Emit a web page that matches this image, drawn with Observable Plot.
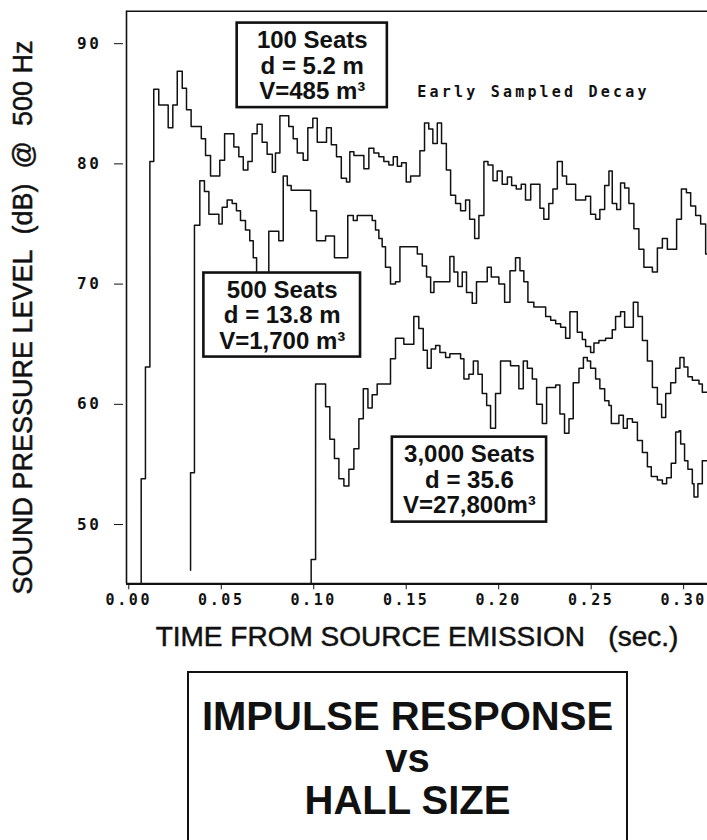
<!DOCTYPE html>
<html>
<head>
<meta charset="utf-8">
<script src="https://cdn.jsdelivr.net/npm/d3@7"></script>
<script src="https://cdn.jsdelivr.net/npm/@observablehq/plot@0.6"></script>
<style>
  html, body { margin: 0; padding: 0; background: #fff; }
  body { width: 707px; height: 840px; overflow: hidden; position: relative; font-family: "Liberation Sans", Arial, sans-serif; }
  #chart { position: absolute; left: 0; top: 0; }
  #title {
    position: absolute; left: 187px; top: 671px; width: 437px; height: 220px;
    border: 2px solid #111; box-sizing: content-box; text-align: center;
    font-weight: bold; font-size: 40px; line-height: 42px; color: #111; padding-top: 22px;
  }
</style>
</head>
<body>
<div id="chart"></div>
<div id="title">IMPULSE RESPONSE<br>vs<br>HALL SIZE</div>
<script>
// ---- data (time in seconds, level in dB) ----
const t100 = [0.0067,0.0067,0.0090,0.0114,0.0135,0.0162,0.0213,0.0238,0.0262,0.0289,0.0312,0.0337,0.0392,0.0415,0.0442,0.0492,0.0518,0.0568,0.0595,0.0619,0.0644,0.0667,0.0694,0.0721,0.0748,0.0776,0.0793,0.0817,0.0865,0.0889,0.0911,0.0943,0.0968,0.0995,0.1019,0.1069,0.1095,0.1123,0.1149,0.1177,0.1195,0.1217,0.1271,0.1298,0.1325,0.1352,0.1379,0.1406,0.1430,0.1452,0.1475,0.1500,0.1524,0.1574,0.1599,0.1622,0.1644,0.1668,0.1691,0.1717,0.1740,0.1767,0.1794,0.1821,0.1843,0.1870,0.1893,0.1920,0.1942,0.1969,0.1992,0.2019,0.2047,0.2070,0.2095,0.2122,0.2145,0.2173,0.2223,0.2244,0.2271,0.2293,0.2317,0.2344,0.2367,0.2416,0.2470,0.2497,0.2524,0.2547,0.2573,0.2596,0.2614,0.2638,0.2659,0.2681,0.2704,0.2731,0.2758,0.2785,0.2831,0.2858,0.2885,0.2912,0.2962,0.2988,0.3015,0.3038,0.3065,0.3092,0.3119,0.3135];
const spl100 = [45,53.8,63.1,80.2,86.2,84.9,83.0,84.9,87.7,86.3,84.5,83.1,82.1,80.7,79.0,80.3,82.5,81.4,80.6,79.5,80.2,82.5,83.3,81.8,80.8,79.3,80.9,84.0,83.1,82.1,80.9,80.3,83.0,83.8,81.8,83.0,81.6,80.6,78.8,78.5,81.0,80.7,79.6,81.3,80.9,80.6,80.2,79.9,80.6,79.8,80.1,78.5,79.0,81.1,83.4,82.9,81.7,83.4,81.7,79.5,77.4,76.7,76.1,77.0,75.4,73.8,75.7,80.2,79.9,78.6,79.4,78.3,78.9,78.2,77.9,78.3,77.0,78.3,76.3,75.4,76.7,77.9,80.2,79.0,78.3,77.0,77.3,75.8,75.4,76.2,78.2,79.4,76.7,76.2,78.4,78.0,76.7,74.6,72.9,71.4,71.0,73.0,73.8,72.9,75.4,77.9,77.6,76.5,75.7,75.0,72.5,72.5];

const t500 = [0.0334,0.0334,0.0355,0.0384,0.0409,0.0433,0.0487,0.0505,0.0532,0.0559,0.0582,0.0604,0.0631,0.0654,0.0673,0.0691,0.0757,0.0811,0.0835,0.0857,0.0878,0.0983,0.1015,0.1064,0.1112,0.1184,0.1214,0.1235,0.1316,0.1334,0.1352,0.1370,0.1388,0.1415,0.1442,0.1466,0.1560,0.1587,0.1610,0.1632,0.1650,0.1736,0.1758,0.1779,0.1803,0.1826,0.1857,0.1880,0.1938,0.1960,0.2001,0.2032,0.2061,0.2091,0.2115,0.2136,0.2158,0.2190,0.2254,0.2281,0.2308,0.2335,0.2362,0.2385,0.2425,0.2452,0.2470,0.2497,0.2515,0.2542,0.2578,0.2614,0.2632,0.2659,0.2681,0.2728,0.2753,0.2777,0.2804,0.2831,0.2858,0.2881,0.2903,0.2930,0.2957,0.2980,0.3002,0.3023,0.3047,0.3083,0.3101,0.3135];
const spl500 = [46.2,54.3,74.9,78.6,77.7,75.8,75.0,76.4,77.0,76.7,76.1,75.3,74.5,73.6,72.2,68.0,74.4,73.6,79.0,78.2,77.8,76.1,73.6,74.0,72.2,75.7,75.3,75.7,75.3,74.5,73.8,73.1,71.4,70.0,70.2,73.1,72.5,71.5,70.6,69.3,70.2,72.3,71.0,69.8,71.0,69.3,68.4,70.2,71.4,70.6,70.0,68.5,71.1,72.2,71.1,70.2,68.5,68.1,67.3,67.0,66.7,66.4,65.5,67.7,66.0,65.4,64.8,64.3,65.1,65.3,65.5,66.2,67.3,67.7,66.4,68.5,67.3,65.3,63.6,61.4,60.0,58.9,60.9,61.8,63.0,63.9,63.1,62.3,62.0,61.7,61.0,61.0];

const t3000 = [0.0986,0.0986,0.1010,0.1064,0.1087,0.1112,0.1136,0.1163,0.1190,0.1217,0.1244,0.1268,0.1293,0.1316,0.1343,0.1415,0.1442,0.1487,0.1541,0.1568,0.1592,0.1614,0.1635,0.1659,0.1682,0.1713,0.1736,0.1794,0.1812,0.1839,0.1863,0.1888,0.1911,0.1935,0.1956,0.1983,0.2010,0.2064,0.2109,0.2133,0.2155,0.2182,0.2205,0.2236,0.2259,0.2308,0.2331,0.2356,0.2380,0.2403,0.2434,0.2458,0.2479,0.2497,0.2524,0.2547,0.2573,0.2596,0.2609,0.2650,0.2674,0.2695,0.2723,0.2750,0.2777,0.2804,0.2825,0.2858,0.2885,0.2908,0.2933,0.2957,0.2975,0.2984,0.3005,0.3023,0.3047,0.3056,0.3077,0.3101,0.3135];
const spl3000 = [45,47.1,61.7,59.8,57.1,55.5,53.8,53.2,54.6,56.3,58.8,61.3,59.7,60.8,61.7,63.8,65.5,65.0,67.3,66.3,64.5,63.0,64.6,64.9,64.3,63.9,64.2,63.8,62.1,62.5,63.6,62.5,60.9,59.9,58.0,60.9,63.6,63.2,61.3,63.6,63.0,62.1,60.0,58.4,61.4,61.6,59.2,57.6,58.8,61.8,63.0,63.9,63.6,63.0,62.1,61.3,60.3,59.9,58.4,59.1,58.0,58.8,58.5,57.0,56.0,54.8,54.0,53.7,53.4,53.9,55.1,57.7,57.8,56.7,55.3,54.6,53.4,52.3,53.4,55.3,55.3];

const halls = ["100 Seats", "500 Seats", "3,000 Seats"];
const xTicks = [0.00, 0.05, 0.10, 0.15, 0.20, 0.25, 0.30];
const yTicks = [50, 60, 70, 80, 90];
const xDomain = [-0.00124, 0.3129];
const yDomain = [45.07, 92.7];

const boxLabels = [
  "100 Seats\nd = 5.2 m\nV=485 m³",
  "500 Seats\nd = 13.8 m\nV=1,700 m³",
  "3,000 Seats\nd = 35.6\nV=27,800m³"
];
const boxT1 = [0.0586, 0.0406, 0.1425];
const boxT2 = [0.1398, 0.1253, 0.2259];
const boxV1 = [91.71, 70.92, 57.27];
const boxV2 = [84.68, 63.93, 50.20];

const noteText = "Early Sampled Decay";
const noteT = 0.1560;
const noteV = 86.0;

const xTitle = "TIME FROM SOURCE EMISSION\u00a0\u00a0\u00a0(sec.)";
const yTitle = "SOUND PRESSURE LEVEL\u00a0\u00a0(dB)\u00a0\u00a0@\u00a0\u00a0500 Hz";

// ---- build tables ----
const series = [[t100, spl100], [t500, spl500], [t3000, spl3000]];
const curves = series.flatMap(([ts, vs], i) => ts.map((t, j) => ({hall: halls[i], t, v: vs[j]})));
const boxes = boxLabels.map((label, i) => ({label, x1: boxT1[i], x2: boxT2[i], y1: boxV1[i], y2: boxV2[i]}));

const ink = "#111";
const mono = "'DejaVu Sans Mono', monospace";
const chart = Plot.plot({
  width: 707,
  height: 660,
  marginLeft: 126,
  marginRight: 0,
  marginTop: 10.7,
  marginBottom: 76.7,
  x: {domain: xDomain},
  y: {domain: yDomain},
  style: {fontFamily: "'Liberation Sans', Arial, sans-serif", color: ink, background: "#fff", overflow: "visible"},
  marks: [
    Plot.line(curves, {x: "t", y: "v", z: "hall", curve: "step-after", stroke: ink, strokeWidth: 1.5, clip: true}),
    Plot.rect(boxes, {x1: "x1", x2: "x2", y1: "y1", y2: "y2", fill: "#fff", stroke: ink, strokeWidth: 2.6}),
    Plot.text(boxes, {x: d => (d.x1 + d.x2) / 2, y: d => (d.y1 + d.y2) / 2, text: "label", fontSize: 24, fontWeight: "bold", lineHeight: 1.06, fill: ink}),
    Plot.text([noteText], {x: noteT, y: noteV, text: d => d, textAnchor: "start", fontSize: 15, fontWeight: "bold", fontFamily: mono, fill: ink, className: "mono"}),
    Plot.ruleX([xDomain[0]], {stroke: ink, strokeWidth: 1.6}),
    Plot.ruleY([yDomain[1]], {stroke: ink, strokeWidth: 1.6}),
    Plot.ruleY([yDomain[0]], {stroke: ink, strokeWidth: 2.2}),
    Plot.axisX({ticks: xTicks, tickFormat: d3.format(".2f"), tickSize: 6, tickPadding: 5, fontSize: 15, fontWeight: "bold", fontFamily: mono, label: null, stroke: ink, fill: ink}),
    Plot.axisY({ticks: yTicks, tickFormat: d3.format("d"), tickSize: 9, tickPadding: 13, dx: -3, fontSize: 16, fontWeight: "bold", fontFamily: mono, label: null, stroke: ink, fill: ink}),
    Plot.text([xTitle], {frameAnchor: "bottom", text: d => d, dy: 53, fontSize: 28, textAnchor: "middle", lineAnchor: "middle", fill: ink, stroke: ink, strokeWidth: 0.5}),
    Plot.text([yTitle], {frameAnchor: "left", text: d => d, dx: -103, dy: 20, rotate: -90, fontSize: 27, textAnchor: "middle", lineAnchor: "middle", fill: ink, stroke: ink, strokeWidth: 0.5})
  ]
});
document.getElementById("chart").appendChild(chart);
// dot-matrix style spacing for the small printed labels
chart.querySelectorAll('g[aria-label="x-axis tick label"], g[aria-label="y-axis tick label"]').forEach(g => g.style.letterSpacing = "2.6px");
chart.querySelectorAll('.mono').forEach(g => g.style.letterSpacing = "3.2px");
</script>
</body>
</html>
